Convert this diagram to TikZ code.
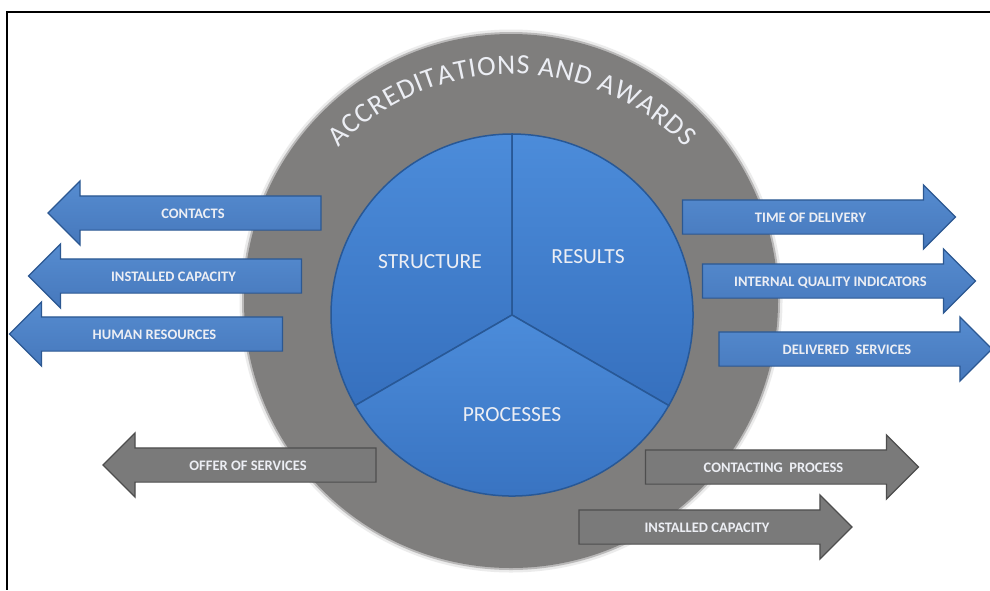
\documentclass[tikz,border=0pt]{standalone}
\usepackage{fontspec}
\setmainfont{Carlito}
\usetikzlibrary{shapes.arrows,decorations.text}

\definecolor{ringgrey}{RGB}{127,126,125}
\definecolor{pieline}{RGB}{40,88,150}
\definecolor{pietop}{RGB}{76,140,218}
\definecolor{piebot}{RGB}{54,112,190}
\definecolor{arrblue}{RGB}{70,120,188}
\definecolor{arrbluetop}{RGB}{86,140,208}
\definecolor{arrblueedge}{RGB}{44,88,146}
\definecolor{arrgrey}{RGB}{122,122,122}
\definecolor{arrgreyedge}{RGB}{78,78,78}
\definecolor{labtext}{RGB}{236,238,244}

\tikzset{
  flowarrow/.style={single arrow, minimum height=273pt, single arrow head extend=15pt,
    inner xsep=0pt, inner ysep=11.5pt, text height=10pt, text depth=0pt,
    line width=1.2pt, text=labtext, font=\bfseries\fontsize{14.5}{14.5}\selectfont},
  bluearrow/.style={flowarrow, draw=arrblueedge, top color=arrbluetop, bottom color=arrblue},
  greyarrow/.style={flowarrow, draw=arrgreyedge, fill=arrgrey},
  leftward/.style={shape border rotate=180},
  wedge/.style={draw=pieline, line width=1.5pt, top color=pietop, bottom color=piebot},
  pielabel/.style={text=labtext, font=\fontsize{21.5}{21.5}\selectfont}
}

\begin{document}
\begin{tikzpicture}[x=1pt,y=1pt]
  \useasboundingbox (0,0) rectangle (990,-590);
  \fill[white] (0,0) rectangle (990,-590);
  \draw[line width=2pt] (990,-12) -- (7,-12) -- (7,-590);

  \coordinate (ring) at (511,-301);
  \coordinate (pie) at (512,-315);
  \fill[ringgrey,opacity=.15] (ring) circle[radius=271.5];
  \fill[ringgrey,opacity=.45] (ring) circle[radius=269];
  \fill[ringgrey] (ring) circle[radius=267];
  \path[decorate, decoration={text along path, text align={fit to path},
      text={|\color{labtext}\fontsize{28}{28}\selectfont|ACCREDITATIONS AND AWARDS}}]
    ([shift={(136:241)}]pie) arc[start angle=136, end angle=44, radius=241];

  \draw[wedge] (pie) -- +(90:181) arc[start angle=90, end angle=210, radius=181] -- cycle;
  \draw[wedge] (pie) -- +(-30:181) arc[start angle=-30, end angle=90, radius=181] -- cycle;
  \draw[wedge] (pie) -- +(210:181) arc[start angle=210, end angle=330, radius=181] -- cycle;
  \node[pielabel] (structure) at (430,-262) {STRUCTURE};
  \node[pielabel] (results) at (588,-257) {RESULTS};
  \node[pielabel] (processes) at (512,-415) {PROCESSES};

  \node[bluearrow,leftward] (contacts) at (193,-213) {CONTACTS};
  \node[bluearrow,leftward] (capacity) at (173.5,-276) {INSTALLED CAPACITY};
  \node[bluearrow,leftward] (human) at (154.5,-334) {HUMAN RESOURCES};
  \node[bluearrow] (delivery) at (810.5,-217) {TIME OF DELIVERY};
  \node[bluearrow] (quality) at (830.5,-281) {INTERNAL QUALITY INDICATORS};
  \node[bluearrow] (delivered) at (847,-349) {DELIVERED\ \ SERVICES};
  \node[greyarrow,leftward] (offer) at (248,-465) {OFFER OF SERVICES};
  \node[greyarrow] (contacting) at (773.5,-467) {CONTACTING\ \ PROCESS};
  \node[greyarrow] (installed) at (707,-527) {INSTALLED CAPACITY};
\end{tikzpicture}
\end{document}
